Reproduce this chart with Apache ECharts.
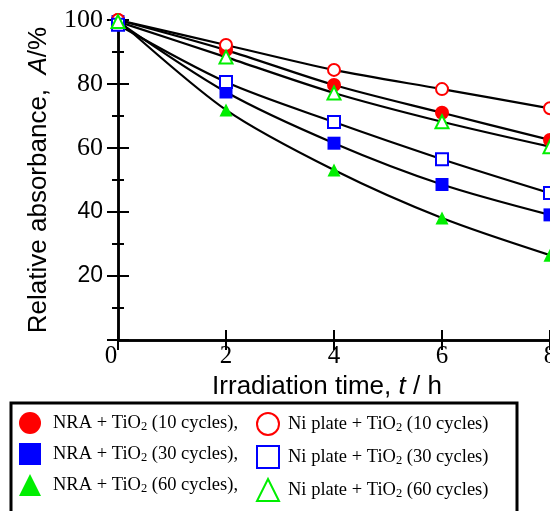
<!DOCTYPE html>
<html><head><meta charset="utf-8">
<script src="https://cdn.jsdelivr.net/npm/echarts@6/dist/echarts.min.js"></script>
<style>html,body{margin:0;padding:0;background:#fff}#c{width:550px;height:511px}</style>
</head><body><div id="c"></div>
<script>
const times = [0, 2, 4, 6, 8];
const nra10 = [100, 90.6, 79.7, 71.0, 62.5];
const nra30 = [99.5, 77.5, 61.5, 48.6, 39.1];
const nra60 = [100, 71.9, 53.1, 38.1, 26.5];
const ni10  = [100, 92.2, 84.4, 78.4, 72.4];
const ni30  = [98.5, 80.6, 68.1, 56.5, 45.9];
const ni60  = [99.5, 88.4, 77.2, 68.2, 60.4];
const names = ['NRA + TiO2 (10 cycles),', 'NRA + TiO2 (30 cycles),', 'NRA + TiO2 (60 cycles),',
               'Ni plate + TiO2 (10 cycles)', 'Ni plate + TiO2 (30 cycles)', 'Ni plate + TiO2 (60 cycles)'];
const sansYLabels = [20, 40];

const RED = '#ff0000', BLUE = '#0000ff', GREEN = '#00ee00';
const sets = [
  {name: names[0], data: nra10, symbol: 'circle', fill: RED, stroke: RED, size: 14},
  {name: names[1], data: nra30, symbol: 'rect', fill: BLUE, stroke: BLUE, size: 13},
  {name: names[2], data: nra60, symbol: 'triangle', fill: GREEN, stroke: GREEN, size: 13},
  {name: names[3], data: ni10, symbol: 'circle', fill: '#fff', stroke: RED, size: 12},
  {name: names[4], data: ni30, symbol: 'rect', fill: '#fff', stroke: BLUE, size: 12},
  {name: names[5], data: ni60, symbol: 'triangle', fill: '#fff', stroke: GREEN, size: 13}
];
const pairs = d => times.map((t, i) => [t, d[i]]);

const series = [];
sets.forEach(s => {
  series.push({
    type: 'line', name: s.name + '_fit', data: pairs(s.data), smooth: 0.3,
    showSymbol: false, silent: true, z: 2,
    lineStyle: {color: '#000', width: 2.2}, itemStyle: {color: '#000'}
  });
});
sets.forEach(s => {
  series.push({
    type: 'scatter', name: s.name, data: pairs(s.data), symbol: s.symbol, symbolSize: s.size, z: 5,
    itemStyle: {color: s.fill, borderColor: s.stroke, borderWidth: s.fill === '#fff' ? 2 : 0, opacity: 1}
  });
});

const legendRich = {
  a: {fontFamily: 'Liberation Serif', fontSize: 18.5, color: '#000'},
  sub: {fontFamily: 'Liberation Serif', fontSize: 12.5, color: '#000', padding: [7, 0, 0, 0]}
};
const legendFmt = n => '{a|' + n.replace('TiO2', 'TiO}{sub|2}{a|') + '}';

const chart = echarts.init(document.getElementById('c'));
chart.setOption({
  animation: false,
  backgroundColor: '#fff',
  grid: {left: 118, right: 0, top: 20, bottom: 171, outerBoundsMode: 'none', containLabel: false},
  xAxis: [{
    type: 'value', min: 0, max: 8, interval: 2, position: 'bottom',
    name: 'Irradiation time, {i|t} / h', nameLocation: 'middle', nameGap: 30,
    nameTextStyle: {fontFamily: 'Liberation Sans', fontSize: 26, color: '#000', padding: [0, 14, 0, 0],
      rich: {i: {fontFamily: 'Liberation Sans', fontStyle: 'italic', fontSize: 26, color: '#000'}}},
    axisLine: {lineStyle: {color: '#000', width: 2.5}},
    axisTick: {inside: true, length: 10, lineStyle: {width: 2}},
    axisLabel: {margin: 4, fontFamily: 'Liberation Serif', fontSize: 25, color: '#000',
      formatter: v => v === 0 ? '{z|0}' : String(v),
      rich: {z: {fontFamily: 'Liberation Serif', fontSize: 25, color: '#000', padding: [0, 14, 0, 0]}}},
    splitLine: {show: false}
  }, {
    type: 'value', min: 0, max: 8, interval: 2, position: 'top',
    axisLine: {lineStyle: {color: '#000', width: 2.5}},
    axisTick: {inside: true, length: 10, lineStyle: {width: 2}},
    axisLabel: {show: false}, splitLine: {show: false}
  }],
  yAxis: [{
    type: 'value', min: 0, max: 100, interval: 20, position: 'left',
    name: 'Relative absorbance,  {i|A}/%', nameLocation: 'middle', nameGap: 66,
    nameTextStyle: {fontFamily: 'Liberation Sans', fontSize: 26, color: '#000',
      rich: {i: {fontFamily: 'Liberation Sans', fontStyle: 'italic', fontSize: 26, color: '#000'}}},
    axisLine: {lineStyle: {color: '#000', width: 2.5}},
    axisTick: {inside: true, length: 11, lineStyle: {width: 2}},
    minorTick: {show: true, splitNumber: 2, length: 6, lineStyle: {color: '#000', width: 2}},
    axisLabel: {margin: 15, color: '#000',
      formatter: v => v === 0 ? '' : (sansYLabels.indexOf(v) >= 0 ? '{s|' + v + '}' : '{m|' + v + '}'),
      rich: {s: {fontFamily: 'Liberation Sans', fontSize: 23, color: '#000'},
             m: {fontFamily: 'Liberation Serif', fontSize: 26, color: '#000'}}},
    splitLine: {show: false}
  }, {
    type: 'value', min: 0, max: 100, interval: 20, position: 'right',
    axisLine: {lineStyle: {color: '#000', width: 2.5}},
    axisTick: {inside: true, length: 11, lineStyle: {width: 2}},
    minorTick: {show: true, splitNumber: 2, length: 6, lineStyle: {color: '#000', width: 2}},
    axisLabel: {show: false}, splitLine: {show: false}
  }],
  graphic: [{
    type: 'rect', z: -1, silent: true,
    shape: {x: 11, y: 403, width: 506, height: 130},
    style: {fill: '#fff', stroke: '#000', lineWidth: 3}
  }],
  legend: [{
    orient: 'vertical', left: 19, top: 412, padding: 0, itemGap: 9,
    itemWidth: 22, itemHeight: 22,
    data: names.slice(0, 3),
    formatter: legendFmt,
    textStyle: {rich: legendRich, padding: [0, 0, 0, 7]}
  }, {
    orient: 'vertical', left: 256, top: 412, padding: 0, itemGap: 9,
    itemWidth: 22, itemHeight: 22,
    data: names.slice(3, 6),
    formatter: legendFmt,
    textStyle: {rich: legendRich, padding: [0, 0, 0, 4]}
  }],
  series: series
});
</script></body></html>
